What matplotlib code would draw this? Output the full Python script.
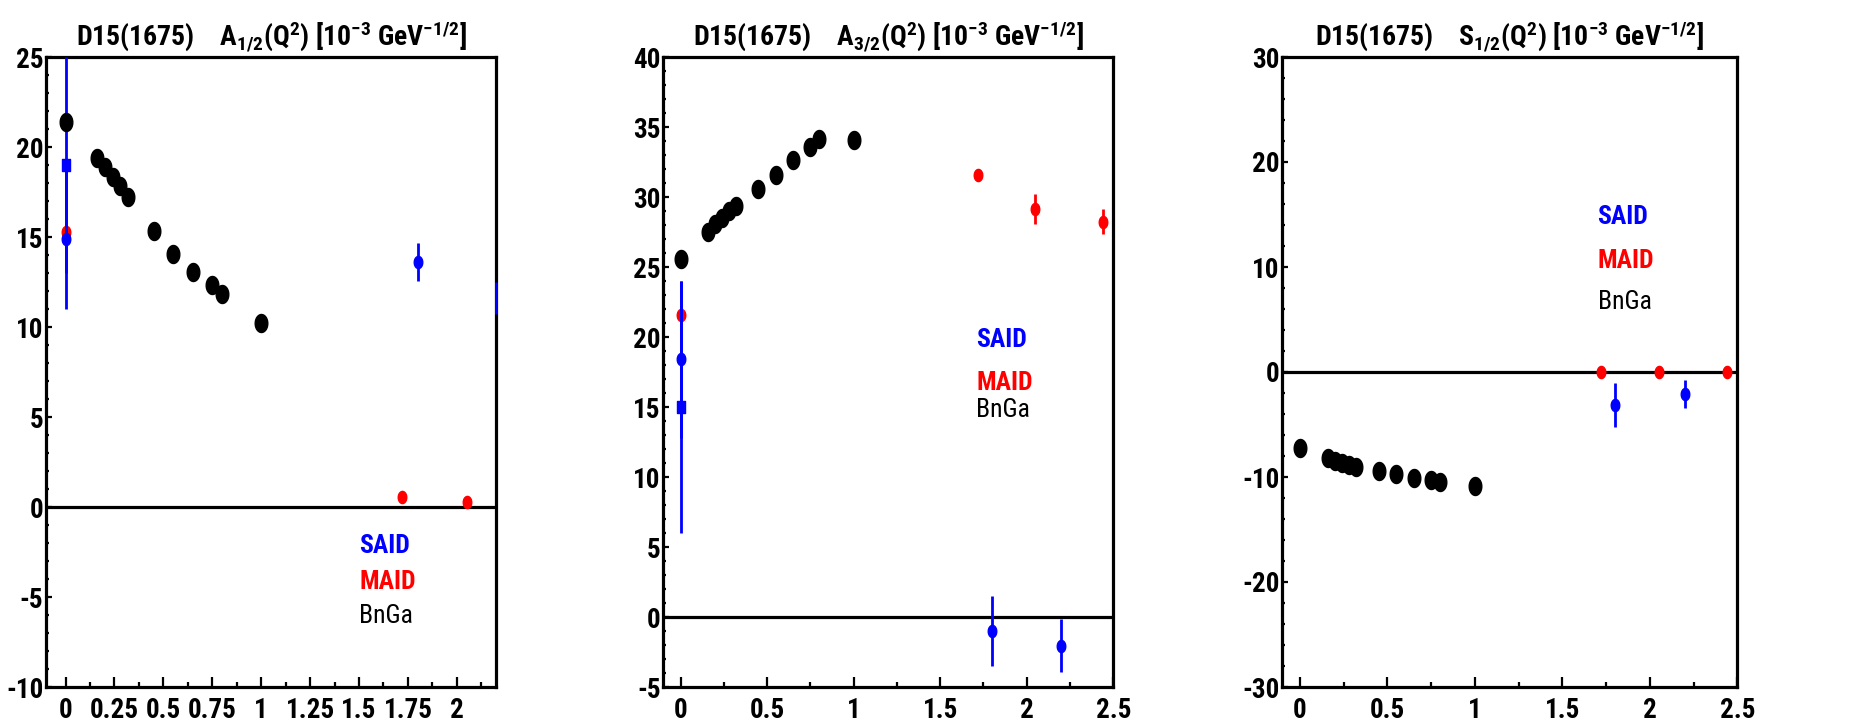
import numpy as np
import matplotlib
matplotlib.use("Agg")
import matplotlib.pyplot as plt
from matplotlib.path import Path
from matplotlib.ticker import MultipleLocator, FuncFormatter
from matplotlib import font_manager

# BnGa points (same Q^2 grid for all three amplitudes)
q_bnga = [0.0, 0.16, 0.20, 0.24, 0.28, 0.32, 0.45, 0.55, 0.65, 0.75, 0.80, 1.0]
a12_bnga = [21.4, 19.4, 18.9, 18.35, 17.85, 17.2, 15.35, 14.05, 13.05, 12.35, 11.85, 10.2]
a32_bnga = [25.6, 27.5, 28.05, 28.5, 29.0, 29.35, 30.6, 31.6, 32.65, 33.6, 34.15, 34.1]
s12_bnga = [-7.2, -8.2, -8.45, -8.7, -8.9, -9.0, -9.45, -9.75, -10.05, -10.3, -10.5, -10.85]

# MAID
q_maid_a12 = [0.0, 1.72, 2.05]
a12_maid = [15.3, 0.55, 0.3]
a12_maid_err = [0.0, 0.0, 0.0]
q_maid_a32 = [0.0, 1.72, 2.05, 2.44]
a32_maid = [21.6, 31.55, 29.15, 28.25]
a32_maid_err = [0.0, 0.3, 1.1, 0.9]
q_maid_s12 = [1.72, 2.05, 2.44]
s12_maid = [0.0, 0.0, 0.0]
s12_maid_err = [0.0, 0.0, 0.0]

# SAID (circles) and SAID photo point (square at Q^2 = 0)
q_said_a12 = [0.0, 1.8, 2.2]
a12_said = [14.9, 13.6, 11.6]
a12_said_err = [3.9, 1.05, 0.9]
q_said_a32 = [0.0, 1.8, 2.2]
a32_said = [18.4, -1.0, -2.05]
a32_said_err = [5.6, 2.5, 1.9]
q_said_s12 = [1.8, 2.2]
s12_said = [-3.1, -2.1]
s12_said_err = [2.1, 1.3]
a12_sq, a12_sq_err = 19.0, 6.0
a32_sq, a32_sq_err = 15.0, 9.0

titles = [r"D15(1675)    A$_{1/2}$(Q$^{2}$) [10$^{-3}$ GeV$^{-1/2}$]",
          r"D15(1675)    A$_{3/2}$(Q$^{2}$) [10$^{-3}$ GeV$^{-1/2}$]",
          r"D15(1675)    S$_{1/2}$(Q$^{2}$) [10$^{-3}$ GeV$^{-1/2}$]"]

# pick a narrow sans with a bold face, the original is condensed helvetica
weights = {}
for f in font_manager.fontManager.ttflist:
    w = f.weight if isinstance(f.weight, int) else (700 if "bold" in str(f.weight) else 400)
    weights.setdefault(f.name, set()).add(w)
fam = "Liberation Sans"
for cand in ["Liberation Sans Narrow", "Arial Narrow", "Roboto Condensed",
             "IBM Plex Sans Condensed", "Fira Sans Condensed", "PT Sans Narrow",
             "Archivo Narrow", "Asap Condensed"]:
    if cand in weights and max(weights[cand]) >= 700 and min(weights[cand]) <= 400:
        fam = cand
        break
narrow = fam != "Liberation Sans"

plt.rcParams["font.family"] = [fam, "DejaVu Sans"]
plt.rcParams["font.weight"] = "bold"
plt.rcParams["axes.unicode_minus"] = False
plt.rcParams["mathtext.fontset"] = "custom"
plt.rcParams["mathtext.rm"] = fam + ":bold"
plt.rcParams["mathtext.default"] = "rm"

tick_fs = 19.5 if narrow else 16.5
title_fs = 20 if narrow else 17
leg_fs = 18.5 if narrow else 16

# squashed markers like the original picture
t = np.linspace(0, 2*np.pi, 41)
ell = Path(np.column_stack([0.7*np.cos(t), np.sin(t)]), closed=True)
sq = Path([(-0.7, -1), (0.7, -1), (0.7, 1), (-0.7, 1), (-0.7, -1)], closed=True)

fig = plt.figure(figsize=(18.52, 7.22), dpi=100)
W, H = 1852, 722
boxes = [(46, 450), (663.3, 450), (1282.3, 455)]
axs = [fig.add_axes([l/W, 35/H, w/W, 630/H]) for l, w in boxes]

setup = [((-0.1, 2.2), (-10, 25), 0.25, 0.125, 5, 1),
         ((-0.1, 2.5), (-5, 40), 0.5, 0.25, 5, 1),
         ((-0.1, 2.5), (-30, 30), 0.5, 0.25, 10, 2)]
legend_y = [(0.2132, 0.1551, 0.1011), (0.5397, 0.472, 0.4286), (0.7344, 0.6657, 0.6006)]
legend_x = [0.696, 0.695, 0.693]

for ax, (xl, yl, xmaj, xmin, ymaj, ymin) in zip(axs, setup):
    ax.set_xlim(xl)
    ax.set_ylim(yl)
    ax.xaxis.set_major_locator(MultipleLocator(xmaj))
    ax.xaxis.set_minor_locator(MultipleLocator(xmin))
    ax.yaxis.set_major_locator(MultipleLocator(ymaj))
    ax.yaxis.set_minor_locator(MultipleLocator(ymin))
    fmt = FuncFormatter(lambda v, p: "%g" % v)
    ax.xaxis.set_major_formatter(fmt)
    ax.yaxis.set_major_formatter(fmt)
    ax.tick_params(axis="x", which="major", direction="in", length=7, width=1.6, pad=7,
                   labelsize=tick_fs)
    ax.tick_params(axis="x", which="minor", direction="in", length=3.5, width=1.6)
    ax.tick_params(axis="y", which="major", direction="in", length=4, width=1.6, pad=2,
                   labelsize=tick_fs)
    ax.tick_params(axis="y", which="minor", direction="in", length=2.5, width=1.6)
    for s in ax.spines.values():
        s.set_linewidth(2.3)
    ax.axhline(0, color="black", lw=2.3, zorder=1)

def draw_said(ax, q, v, e):
    eb = ax.errorbar(q, v, yerr=e, fmt="none", ecolor="#0000ff", elinewidth=2, capsize=0, zorder=6)
    for lc in eb.lines[2]:
        lc.set_clip_on(False)   # bar sitting on the right frame stays visible
    q = np.array(q)
    v = np.array(v)
    ok = q < ax.get_xlim()[1] - 1e-6   # marker on the frame edge is not drawn
    ax.plot(q[ok], v[ok], ls="none", marker=ell, ms=8.8, color="#0000ff", zorder=6)

def draw_maid(ax, q, v, e):
    ax.errorbar(q, v, yerr=e, fmt="none", ecolor="#ff0000", elinewidth=2, capsize=0, zorder=4)
    ax.plot(q, v, ls="none", marker=ell, ms=8.8, color="#ff0000", zorder=4)

def draw_bnga(ax, q, v):
    ax.plot(q, v, ls="none", marker=ell, ms=13, color="black", zorder=7)

# A1/2
ax = axs[0]
draw_maid(ax, q_maid_a12, a12_maid, a12_maid_err)
ax.errorbar([0.0], [a12_sq], yerr=[a12_sq_err], fmt="none", ecolor="#0000ff", elinewidth=2, zorder=5)
ax.plot([0.0], [a12_sq], ls="none", marker=sq, ms=8.8, color="#0000ff", zorder=5)
draw_said(ax, q_said_a12, a12_said, a12_said_err)
draw_bnga(ax, q_bnga, a12_bnga)

# A3/2
ax = axs[1]
ax.errorbar([0.0], [a32_sq], yerr=[a32_sq_err], fmt="none", ecolor="#0000ff", elinewidth=2, zorder=5)
ax.plot([0.0], [a32_sq], ls="none", marker=sq, ms=8.8, color="#0000ff", zorder=5)
draw_said(ax, q_said_a32, a32_said, a32_said_err)
draw_maid(ax, q_maid_a32, a32_maid, a32_maid_err)
draw_bnga(ax, q_bnga, a32_bnga)

# S1/2
ax = axs[2]
draw_maid(ax, q_maid_s12, s12_maid, s12_maid_err)
draw_said(ax, q_said_s12, s12_said, s12_said_err)
draw_bnga(ax, q_bnga, s12_bnga)

for ax, title, ly, lx, (l, w) in zip(axs, titles, legend_y, legend_x, boxes):
    ax.text(lx, ly[0], "SAID", color="#0000ff", fontsize=leg_fs, fontweight="bold",
            transform=ax.transAxes, va="baseline")
    ax.text(lx, ly[1], "MAID", color="#ff0000", fontsize=leg_fs, fontweight="bold",
            transform=ax.transAxes, va="baseline")
    ax.text(lx, ly[2], "BnGa", color="black", fontsize=leg_fs, fontweight="normal",
            transform=ax.transAxes, va="baseline")
    fig.text((l + w/2)/W, (H - 45)/H, title, fontsize=title_fs, fontweight="bold",
             ha="center", va="baseline")

fig.savefig("out.png", dpi=100)
